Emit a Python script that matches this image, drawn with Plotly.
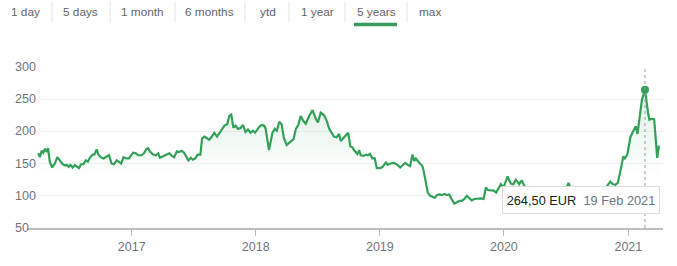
import plotly.graph_objects as go

# ---- data ----
dates = [
    "2016-04-01", "2016-04-06", "2016-04-11", "2016-04-16", "2016-04-21", "2016-04-26", "2016-04-30",
    "2016-05-05", "2016-05-12", "2016-05-20", "2016-05-27", "2016-06-04", "2016-06-12", "2016-06-19",
    "2016-06-24", "2016-06-30", "2016-07-05", "2016-07-11", "2016-07-18", "2016-07-25", "2016-07-30",
    "2016-08-05", "2016-08-12", "2016-08-19", "2016-08-25", "2016-08-31", "2016-09-08", "2016-09-13",
    "2016-09-20", "2016-09-25", "2016-10-02", "2016-10-10", "2016-10-18", "2016-10-26", "2016-11-03",
    "2016-11-10", "2016-11-18", "2016-11-25", "2016-12-01", "2016-12-08", "2016-12-16", "2016-12-24",
    "2016-12-30", "2017-01-05", "2017-01-13", "2017-01-20", "2017-01-30", "2017-02-06", "2017-02-14",
    "2017-02-18", "2017-02-25", "2017-03-05", "2017-03-13", "2017-03-20", "2017-03-25", "2017-04-04",
    "2017-04-14", "2017-04-22", "2017-04-29", "2017-05-06", "2017-05-14", "2017-05-20", "2017-05-28",
    "2017-06-04", "2017-06-12", "2017-06-17", "2017-06-24", "2017-06-30", "2017-07-07", "2017-07-14",
    "2017-07-22", "2017-07-27", "2017-08-03", "2017-08-11", "2017-08-17", "2017-08-25", "2017-09-01",
    "2017-09-09", "2017-09-16", "2017-09-24", "2017-10-01", "2017-10-09", "2017-10-15", "2017-10-21",
    "2017-10-27", "2017-11-03", "2017-11-09", "2017-11-17", "2017-11-24", "2017-12-02", "2017-12-09",
    "2017-12-17", "2017-12-24", "2017-12-30", "2018-01-06", "2018-01-14", "2018-01-21", "2018-01-27",
    "2018-01-30", "2018-02-09", "2018-02-19", "2018-02-26", "2018-03-04", "2018-03-11", "2018-03-18",
    "2018-03-25", "2018-04-02", "2018-04-12", "2018-04-22", "2018-04-29", "2018-05-06", "2018-05-13",
    "2018-05-21", "2018-05-28", "2018-06-07", "2018-06-17", "2018-06-27", "2018-07-03", "2018-07-11",
    "2018-07-21", "2018-07-29", "2018-08-05", "2018-08-13", "2018-08-19", "2018-08-27", "2018-09-03",
    "2018-09-08", "2018-09-16", "2018-09-23", "2018-09-30", "2018-10-06", "2018-10-13", "2018-10-17",
    "2018-10-27", "2018-11-01", "2018-11-06", "2018-11-14", "2018-11-21", "2018-11-27", "2018-12-03",
    "2018-12-10", "2018-12-17", "2018-12-23", "2019-01-02", "2019-01-09", "2019-01-14", "2019-01-19",
    "2019-01-24", "2019-01-31", "2019-02-12", "2019-02-22", "2019-03-02", "2019-03-09", "2019-03-16",
    "2019-03-24", "2019-03-31", "2019-04-07", "2019-04-12", "2019-04-17", "2019-04-24", "2019-04-29",
    "2019-05-04", "2019-05-07", "2019-05-12", "2019-05-17", "2019-05-22", "2019-05-29", "2019-06-05",
    "2019-06-12", "2019-06-18", "2019-06-25", "2019-07-02", "2019-07-10", "2019-07-17", "2019-07-24",
    "2019-07-31", "2019-08-08", "2019-08-16", "2019-08-23", "2019-08-30", "2019-09-07", "2019-09-14",
    "2019-09-21", "2019-09-28", "2019-10-06", "2019-10-16", "2019-10-25", "2019-11-02", "2019-11-09",
    "2019-11-14", "2019-11-24", "2019-12-02", "2019-12-09", "2019-12-15", "2019-12-23", "2019-12-31",
    "2020-01-07", "2020-01-12", "2020-01-21", "2020-01-29", "2020-02-05", "2020-02-15", "2020-02-22",
    "2020-02-29", "2020-03-08", "2020-03-17", "2020-03-23", "2020-03-29", "2020-04-07", "2020-04-18",
    "2020-05-03", "2020-05-18", "2020-06-01", "2020-06-16", "2020-07-01", "2020-07-09", "2020-07-18",
    "2020-08-02", "2020-08-16", "2020-08-31", "2020-09-15", "2020-09-29", "2020-10-14", "2020-10-26",
    "2020-11-02", "2020-11-09", "2020-11-17", "2020-11-24", "2020-12-01", "2020-12-07", "2020-12-12",
    "2020-12-17", "2020-12-22", "2020-12-29", "2021-01-03", "2021-01-07", "2021-01-14", "2021-01-19",
    "2021-01-23", "2021-01-28", "2021-02-03", "2021-02-10", "2021-02-19", "2021-02-23", "2021-02-28",
    "2021-03-04", "2021-03-11", "2021-03-18", "2021-03-24", "2021-03-27", "2021-04-01",
]
prices = [
    166, 160, 170, 167, 173, 168, 174,
    153, 144, 150, 160, 155, 149, 147,
    148, 145, 148, 144, 148, 145, 143,
    149, 149, 155, 153, 159, 164, 164,
    172, 164, 160, 158, 160, 163, 150,
    149, 155, 153, 150, 160, 158, 158,
    162, 167, 166, 163, 163, 166, 173,
    174, 168, 164, 163, 166, 159, 162,
    164, 166, 162, 160, 169, 168, 170,
    167, 160, 155, 159, 156, 158, 164,
    164, 189, 192, 189, 187, 192, 198,
    192, 198, 204, 209, 211, 224, 226,
    206, 209, 204, 205, 210, 199, 203,
    198, 201, 198, 204, 209, 210, 208,
    204, 171, 198, 204, 201, 215, 211,
    189, 179, 183, 188, 204, 210, 224,
    216, 212, 224, 233, 219, 214, 229,
    225, 216, 204, 196, 192, 191, 196,
    185, 190, 195, 198, 177, 175, 171,
    165, 171, 163, 162, 164, 163, 165,
    158, 158, 143, 143, 145, 149, 152,
    148, 150, 151, 148, 144, 147, 151,
    148, 146, 164, 154, 158, 153, 150,
    148, 145, 133, 120, 105, 100, 98,
    97, 101, 102, 101, 103, 101, 102,
    95, 88, 90, 92, 92, 95, 100,
    97, 93, 95, 96, 96, 95, 113,
    109, 109, 108, 105, 110, 118, 113,
    123, 130, 119, 118, 125, 118, 124,
    116, 108, 85, 75, 82, 88, 92,
    95, 100, 104, 106, 110, 120, 108,
    104, 101, 99, 101, 103, 106, 112,
    117, 122, 118, 117, 120, 133, 147,
    161, 158, 164, 181, 191, 199, 203,
    208, 196, 220, 249, 264.5, 244, 229,
    218, 219.5, 219, 184.5, 159, 178,
]
y_ticks = [50, 100, 150, 200, 250, 300]
x_ticks = ["2017-01-01", "2018-01-01", "2019-01-01", "2020-01-01", "2021-01-01"]
x_tick_labels = ["2017", "2018", "2019", "2020", "2021"]
tabs = ["1 day", "5 days", "1 month", "6 months", "ytd", "1 year", "5 years", "max"]
selected_tab = "5 years"
peak_date = "2021-02-19"
peak_value = 264.5
tooltip_price = "264,50 EUR"
tooltip_date = "19 Feb 2021"

# ---- layout geometry (pixels) ----
W, H = 677, 266
L, R, T, B = 27, 14, 67, 35
PW = W - L - R
PH = H - T - B


def px_x(p):
    return (p - L) / PW


def px_y(p):
    return (H - B - p) / PH


GREEN = "#33a059"
FONT = "Liberation Sans, Arial, sans-serif"
GREY = "#70757a"

fig = go.Figure()
fig.add_trace(go.Scatter(
    x=dates, y=prices, mode="lines",
    line=dict(color=GREEN, width=2.2),
    fill="tozeroy",
    fillgradient=dict(type="vertical", start=130, stop=240,
                      colorscale=[[0, "rgba(52,160,90,0)"], [1, "rgba(52,160,90,0.13)"]]),
    hoverinfo="skip", showlegend=False,
))
fig.add_trace(go.Scatter(
    x=[peak_date], y=[peak_value], mode="markers",
    marker=dict(color=GREEN, size=8), hoverinfo="skip", showlegend=False,
))

shapes = []
# dotted vertical cursor line
shapes.append(dict(type="line", xref="x", yref="paper", x0=peak_date, x1=peak_date, y0=0, y1=1,
                   line=dict(color="#9aa0a6", width=1, dash="dot"), layer="above"))

annotations = []
# y tick labels (left aligned)
for v in y_ticks:
    annotations.append(dict(xref="paper", yref="y", x=0, y=v, xshift=-14, xanchor="left",
                            yanchor="middle", text=str(v), showarrow=False,
                            font=dict(family=FONT, size=12.5, color=GREY)))

# tabs
tab_centers = [25.3, 80.5, 142.5, 209.5, 267.5, 317, 376, 429.5]
separators = [52, 110, 175, 245, 289, 345, 407]
for name, cx in zip(tabs, tab_centers):
    annotations.append(dict(xref="paper", yref="paper", x=px_x(cx), y=px_y(11), xanchor="center",
                            yanchor="middle", text=name, showarrow=False,
                            font=dict(family=FONT, size=11.8, color="#5f6368")))
for sx in separators:
    shapes.append(dict(type="line", xref="paper", yref="paper", x0=px_x(sx), x1=px_x(sx),
                       y0=px_y(0), y1=px_y(22), line=dict(color="#e3e3e3", width=1)))
sel_cx = tab_centers[tabs.index(selected_tab)]
shapes.append(dict(type="rect", xref="paper", yref="paper", x0=px_x(sel_cx - 22), x1=px_x(sel_cx + 21),
                   y0=px_y(25.5), y1=px_y(22), line=dict(width=0), fillcolor="#3a9a5e"))

# tooltip
annotations.append(dict(
    xref="paper", yref="paper", x=px_x(581), y=px_y(202.5), xanchor="center", yanchor="middle",
    text=f"<span style='color:#202124'>{tooltip_price}</span>  <span style='color:#70757a'>{tooltip_date}</span>",
    showarrow=False, bgcolor="white", bordercolor="#dcdcdc", borderwidth=1,
    width=152, height=22, borderpad=2, align="center",
    font=dict(family=FONT, size=12.8)))

fig.update_layout(
    width=W, height=H,
    margin=dict(l=L, r=R, t=T, b=B),
    paper_bgcolor="white", plot_bgcolor="white",
    showlegend=False,
    shapes=shapes, annotations=annotations,
    xaxis=dict(
        type="date", range=["2016-02-28", "2021-04-13"],
        tickvals=x_ticks, ticktext=x_tick_labels,
        showgrid=False, showline=True, linecolor="#bdbdbd", linewidth=2,
        ticks="outside", ticklen=6, tickcolor="#bdbdbd", tickwidth=1,
        tickfont=dict(family=FONT, size=12.5, color=GREY),
        zeroline=False, fixedrange=True,
    ),
    yaxis=dict(
        range=[50, 300], tickvals=y_ticks, showticklabels=False,
        showgrid=True, gridcolor="#f1f1f1", gridwidth=1,
        zeroline=False, showline=False, fixedrange=True,
    ),
)

fig.write_html("out.html", config={"displayModeBar": False})
